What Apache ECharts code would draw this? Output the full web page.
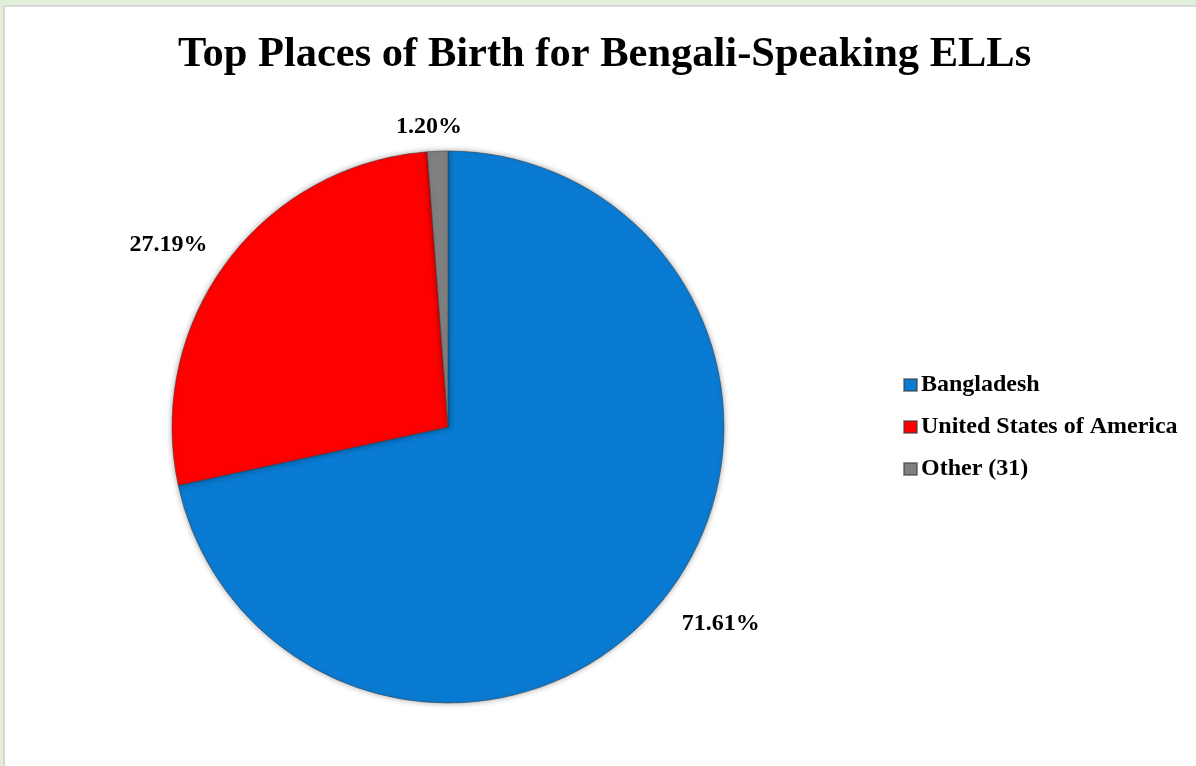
<!DOCTYPE html>
<html>
<head>
<meta charset="utf-8">
<script src="https://cdn.jsdelivr.net/npm/echarts@6/dist/echarts.min.js"></script>
<style>
  html, body { margin: 0; padding: 0; width: 1196px; height: 766px; overflow: hidden; background: #e2efd9; }
  #frame { position: absolute; left: 3px; top: 5px; right: 0; bottom: 0; background: #fff; border-left: 2px solid #d8d8dc; border-top: 2px solid #d8d8dc; }
  #chart { position: absolute; left: 0; top: 0; width: 1196px; height: 766px; }
</style>
</head>
<body>
<div id="frame"></div>
<div id="chart"></div>
<script>
const titleText = 'Top Places of Birth for Bengali-Speaking ELLs';
const categories = ['Bangladesh', 'United States of America', 'Other (31)'];
const values = [71.61, 27.19, 1.20];
const colors = ['#0a7bd3', '#ff0000', '#808080'];
// small per-label nudges (style only), indexed like categories
const labelNudge = [[0, 12], [0, -6], [30, -6]];

const chart = echarts.init(document.getElementById('chart'), null, { renderer: 'canvas' });
const font = '"Liberation Serif", "Times New Roman", serif';
chart.setOption({
  backgroundColor: 'transparent',
  animation: false,
  title: {
    text: titleText,
    left: 173,
    top: 29,
    textStyle: { fontFamily: font, fontSize: 42.5, fontWeight: 'bold', color: '#000' }
  },
  legend: {
    orient: 'vertical',
    left: 898,
    top: 368,
    icon: 'rect',
    itemWidth: 13,
    itemHeight: 12,
    itemGap: 18,
    data: categories,
    textStyle: { fontFamily: font, fontSize: 24, fontWeight: 'bold', color: '#000', padding: [0, 0, 0, -1] }
  },
  series: [{
    type: 'pie',
    center: [448, 427],
    radius: 276,
    startAngle: 90,
    clockwise: true,
    data: categories.map((c, i) => ({
      name: c,
      value: values[i],
      itemStyle: { color: colors[i] }
    })),
    itemStyle: {
      borderColor: 'rgba(60,60,60,0.55)',
      borderWidth: 1,
      shadowBlur: 6,
      shadowColor: 'rgba(0,0,0,0.35)'
    },
    label: {
      show: true,
      position: 'outside',
      formatter: p => p.value.toFixed(2) + '%',
      fontFamily: font,
      fontSize: 24,
      fontWeight: 'bold',
      color: '#000'
    },
    labelLine: { show: false, length: 18, length2: 0 },
    labelLayout: p => ({ dx: labelNudge[p.dataIndex][0], dy: labelNudge[p.dataIndex][1] }),
    emphasis: { disabled: true }
  }]
});
</script>
</body>
</html>
